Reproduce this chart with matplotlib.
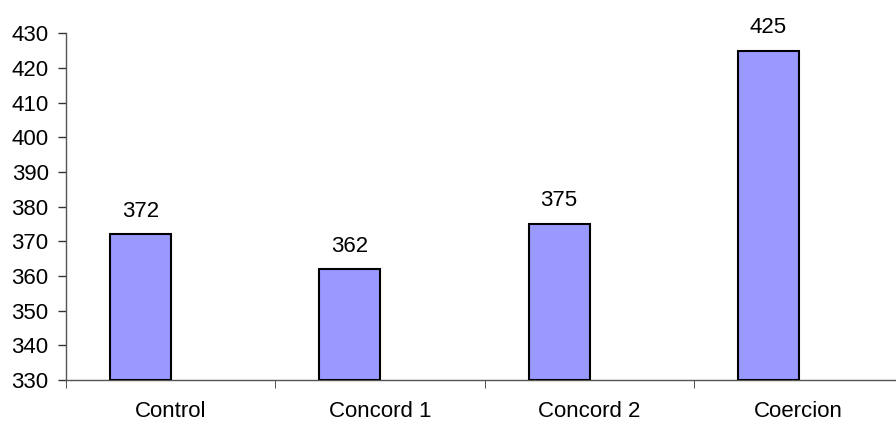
import numpy as np
import matplotlib.pyplot as plt

plt.rcParams['font.family'] = ['Liberation Sans', 'DejaVu Sans']

categories = ['Control', 'Concord 1', 'Concord 2', 'Coercion']
values = [372, 362, 375, 425]

fig = plt.figure(figsize=(8.96, 4.21), dpi=100)
ax = fig.add_axes([66 / 896, 41 / 421, 837 / 896, 346.7 / 421])

x = np.arange(len(categories))
bar_x = x - 0.1435
bars = ax.bar(bar_x, np.array(values) - 330, bottom=330, width=0.292,
              color='#9999ff', edgecolor='black', linewidth=1.5, zorder=3)

for bx, v in zip(bar_x, values):
    ax.annotate(str(v), (bx, v), xytext=(0, 9), textcoords='offset points',
                ha='center', va='bottom', fontsize=16)

ax.set_xlim(-0.5, 3.5)
ax.set_ylim(330, 430)
ax.set_yticks(np.arange(330, 431, 10))
ax.set_xticks(x)
ax.set_xticklabels(categories)
ax.set_xticks(np.arange(-0.5, 3.6, 1), minor=True)

ax.tick_params(axis='x', which='major', length=0, pad=15, labelsize=16)
ax.tick_params(axis='x', which='minor', length=5.5, direction='out', color='#333333')
ax.tick_params(axis='y', length=5.5, width=1, color='#333333', labelsize=16, pad=7)

for s in ['top', 'right']:
    ax.spines[s].set_visible(False)
for s in ['left', 'bottom']:
    ax.spines[s].set_color('#555555')
    ax.spines[s].set_linewidth(1)

fig.savefig('out.png', dpi=100)
